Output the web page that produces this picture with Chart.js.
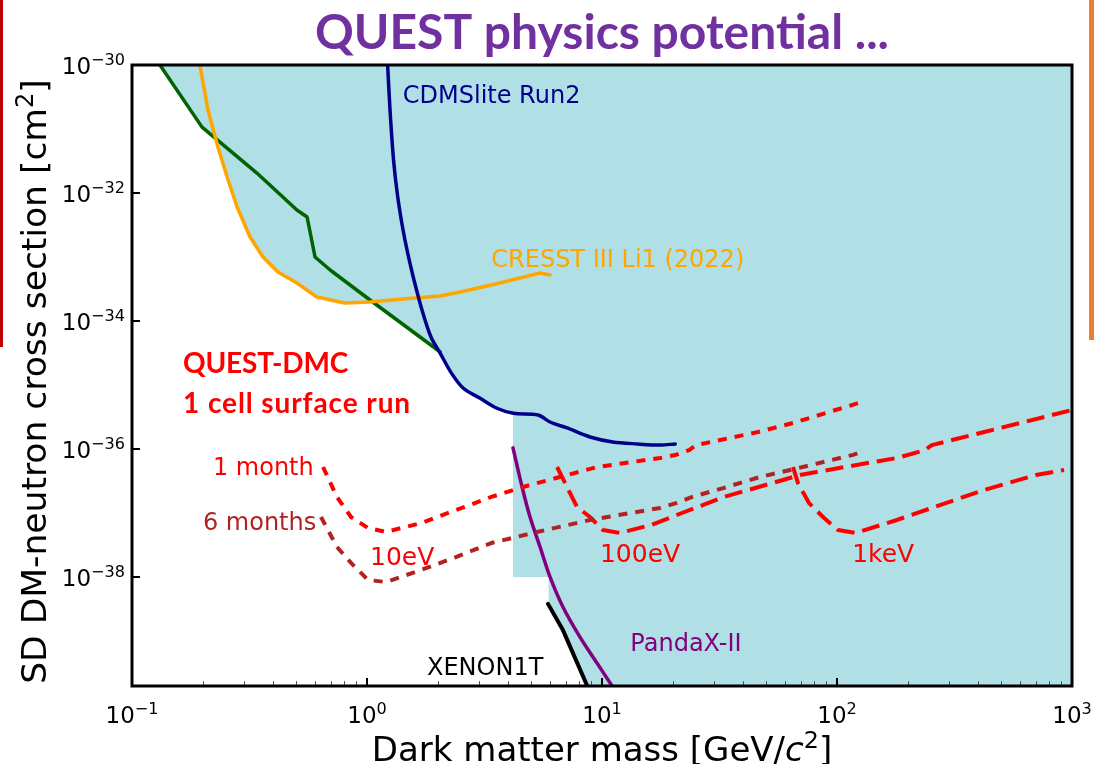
<!DOCTYPE html>
<html>
<head>
<meta charset="utf-8">
<script src="https://cdn.jsdelivr.net/npm/chart.js@4.4.1/dist/chart.umd.min.js"></script>
<style>
html,body{margin:0;padding:0;background:#fff;overflow:hidden}
#wrap{position:relative;width:1094px;height:764px}
</style>
</head>
<body>
<div id="wrap"><canvas id="c" width="1094" height="764"></canvas></div>
<script>
// ---------------- data (x: GeV/c^2, y: cm^2) ----------------
const xTicks = [0.1, 1, 10, 100, 1000];
const xTickLabels = [['10', '−1'], ['10', '0'], ['10', '1'], ['10', '2'], ['10', '3']];
const yTicks = [1e-30, 1e-32, 1e-34, 1e-36, 1e-38];
const yTickLabels = [['10', '−30'], ['10', '−32'], ['10', '−34'], ['10', '−36'], ['10', '−38']];

const greenLimit = [[0.1315,1e-30],[0.1986,1.07e-31],[0.340,2.05e-32],[0.503,5.42e-33],[0.556,4.22e-33],[0.601,1.0e-33],[0.697,6.26e-34],[1.03,2.13e-34],[2.05,3.28e-35]];
const cresstLi1 = [[0.1945,1e-30],[0.2105,1.98e-31],[0.232,5.23e-32],[0.254,1.78e-32],[0.280,6.04e-33],[0.318,2.05e-33],[0.361,1.0e-33],[0.418,5.83e-34],[0.503,3.92e-34],[0.612,2.37e-34],[0.805,1.91e-34],[1.03,1.98e-34],[1.42,2.21e-34],[2.05,2.46e-34],[2.49,2.84e-34],[3.38,3.65e-34],[4.30,4.53e-34],[5.45,5.62e-34],[6.01,5.23e-34]];
const cdmsLite = [[1.224,1e-30],[1.253,1.98e-31],[1.297,3.28e-32],[1.348,9.3e-33],[1.416,2.94e-33],[1.486,1.2e-33],[1.577,4.7e-34],[1.714,1.49e-34],[1.872,5.62e-35],[2.047,3.16e-35],[2.29,1.52e-35],[2.57,8.9e-36],[3.03,6.19e-36],[3.57,4.33e-36],[4.20,3.61e-36],[5.35,3.4e-36],[6.01,2.64e-36],[7.10,2.13e-36],[8.89,1.54e-36],[11.1,1.29e-36],[14.1,1.2e-36],[17.7,1.15e-36],[20.5,1.2e-36]];
const pandaX = [[4.18,1.04e-36],[4.57,2.55e-37],[4.94,8.66e-38],[5.45,2.95e-38],[6.01,1e-38],[6.82,3.39e-39],[8.06,1.15e-39],[9.52,4.53e-40],[11.5,1.58e-40]];
const xenon1T = [[5.89,3.8e-39],[6.82,1.48e-39],[8.89,1.58e-40]];
const excludedEdge = [[0.1315,1e-30],[0.1986,1.07e-31],[0.2275,6.98e-32],[0.232,5.23e-32],[0.254,1.78e-32],[0.280,6.04e-33],[0.318,2.05e-33],[0.361,1.0e-33],[0.418,5.83e-34],[0.503,3.92e-34],[0.612,2.37e-34],[0.805,1.91e-34],[1.06,1.98e-34],[2.05,3.28e-35],[2.29,1.52e-35],[2.57,8.9e-36],[3.03,6.19e-36],[3.57,4.33e-36],[4.18,3.62e-36],[4.18,1e-38],[5.93,1e-38],[5.93,3.8e-39],[6.82,1.48e-39],[8.89,1.58e-40],[1000,1.58e-40]];

const quest1m10eV = [[0.650,5.23e-37],[0.745,1.78e-37],[0.855,8.66e-38],[1.01,5.83e-38],[1.205,5.05e-38],[1.70,6.98e-38],[2.39,1.11e-37],[3.38,1.78e-37],[4.61,2.55e-37],[6.62,3.65e-37],[9.52,5.23e-37],[17.7,7.24e-37],[20.5,8.05e-37],[23.5,9.64e-37],[25.1,1.15e-36],[46.1,1.84e-36],[65.0,2.55e-36],[127.6,5.42e-36]];
const quest6m10eV = [[0.637,8.66e-38],[0.745,2.95e-38],[0.855,1.66e-38],[1.01,8.98e-39],[1.205,8.35e-39],[1.70,1.29e-38],[2.39,2.05e-38],[3.38,3.39e-38],[5.29,5.05e-38],[8.89,7.78e-38],[17.7,1.2e-37],[20.8,1.44e-37],[24.2,1.78e-37],[34.0,2.55e-37],[47.0,3.65e-37],[71.6,5.23e-37],[117,8.1e-37],[127.6,9.0e-37]];
const quest100eV = [[6.44,5.23e-37],[7.10,2.55e-37],[7.83,1.24e-37],[8.89,8.66e-38],[10.1,5.42e-38],[11.9,4.87e-38],[16.2,6.5e-38],[21.9,1e-37],[33.0,1.78e-37],[55.0,3.05e-37],[69.6,3.93e-37],[108,5.23e-37],[180,7.24e-37],[237,9.64e-37],[253,1.15e-36],[423,1.84e-36],[1000,4.07e-36]];
const quest1keV = [[65.0,5.23e-37],[68.2,2.95e-37],[76.0,1.43e-37],[88.1,8.35e-38],[101,5.42e-38],[120,4.87e-38],[180,7.78e-38],[253,1.2e-37],[423,2.29e-37],[703,3.93e-37],[925,4.7e-37]];

// ---------------- text annotations (anchored in data coordinates) ----------------
const FONT = '"DejaVu Sans", sans-serif';
const annotations = [
  {text:'CDMSlite Run2', x:1.42, y:2.55e-31, color:'#00008B', font:'24px '+FONT},
  {text:'CRESST III Li1 (2022)', x:3.38, y:6.98e-34, color:'#FFA500', font:'24px '+FONT},
  {text:'PandaX-II', x:13.2, y:6.98e-40, color:'#800080', font:'24px '+FONT},
  {text:'XENON1T', x:1.80, y:2.95e-40, color:'#000000', font:'24px '+FONT},
  {text:'1 month', x:0.221, y:3.93e-37, color:'#FF0000', font:'24px '+FONT},
  {text:'6 months', x:0.2004, y:5.42e-38, color:'#B22222', font:'24px '+FONT},
  {text:'10eV', x:1.03, y:1.54e-38, color:'#FF0000', font:'25px '+FONT},
  {text:'100eV', x:9.8, y:1.71e-38, color:'#FF0000', font:'25px '+FONT},
  {text:'1keV', x:116, y:1.71e-38, color:'#FF0000', font:'25px '+FONT},
  {text:'QUEST-DMC', x:0.165, y:1.54e-35, color:'#FF0000', font:'bold 28px Lato, sans-serif', spacing:'-0.2px'},
  {text:'1 cell surface run', x:0.165, y:3.65e-36, color:'#FF0000', font:'bold 28px Lato, sans-serif', spacing:'0.9px'}
];

const toXY = arr => arr.map(p => ({x:p[0], y:p[1]}));
function curve(label, arr, color, width, dash, tension) {
  return {label, data: toXY(arr), borderColor: color, backgroundColor: color, borderWidth: width,
          borderDash: dash || [], fill: false, pointRadius: 0, borderJoinStyle: 'round',
          borderCapStyle: dash ? 'butt' : 'round', tension: tension || 0, order: 0};
}

// text with a superscript: parts = [[text, style], ...] style: 'n' normal, 'i' italic, 's' superscript
function runs(ctx, parts, size) {
  const out = [];
  let w = 0;
  for (const [t, st] of parts) {
    const sz = st === 's' ? size * 0.7 : size;
    const f = (st === 'i' ? 'italic ' : '') + sz + 'px ' + FONT;
    ctx.font = f;
    const mw = ctx.measureText(t).width;
    out.push({t, f, dx: w, dy: st === 's' ? -size * 0.38 : 0, w: mw});
    w += mw;
  }
  return {out, w};
}
function drawRuns(ctx, parts, size, x, y, align) {
  const r = runs(ctx, parts, size);
  const x0 = align === 'center' ? x - r.w / 2 : (align === 'right' ? x - r.w : x);
  ctx.textAlign = 'left'; ctx.textBaseline = 'alphabetic';
  for (const o of r.out) { ctx.font = o.f; ctx.fillText(o.t, x0 + o.dx, y + o.dy); }
}

const overlay = {
  id: 'overlay',
  afterDatasetsDraw(chart) {
    const {ctx, chartArea: a, scales: {x, y}} = chart;
    ctx.save();
    ctx.beginPath();
    ctx.rect(a.left, a.top, a.right - a.left, a.bottom - a.top);
    ctx.clip();
    for (const t of annotations) {
      ctx.font = t.font; ctx.fillStyle = t.color;
      ctx.letterSpacing = t.spacing || '0px';
      ctx.textAlign = 'left'; ctx.textBaseline = 'alphabetic';
      ctx.fillText(t.text, x.getPixelForValue(t.x), y.getPixelForValue(t.y));
    }
    ctx.letterSpacing = '0px';
    ctx.restore();
    ctx.save();
    // inward ticks
    ctx.strokeStyle = '#000';
    ctx.lineWidth = 2;
    for (const v of xTicks) {
      const px = Math.round(x.getPixelForValue(v));
      ctx.beginPath(); ctx.moveTo(px, a.bottom); ctx.lineTo(px, a.bottom - 8); ctx.stroke();
    }
    for (const v of yTicks) {
      const py = Math.round(y.getPixelForValue(v));
      ctx.beginPath(); ctx.moveTo(a.left, py); ctx.lineTo(a.left + 8, py); ctx.stroke();
    }
    ctx.strokeStyle = '#555'; ctx.lineWidth = 1;
    for (let d = 0; d < xTicks.length - 1; d++) {
      for (let m = 2; m <= 9; m++) {
        const px = Math.round(x.getPixelForValue(xTicks[d] * m)) + 0.5;
        ctx.beginPath(); ctx.moveTo(px, a.bottom); ctx.lineTo(px, a.bottom - 5); ctx.stroke();
      }
    }
    // frame
    ctx.strokeStyle = '#000'; ctx.lineWidth = 3;
    ctx.strokeRect(a.left, a.top, a.right - a.left, a.bottom - a.top);

    // tick labels (base + superscript exponent), placed by the scales
    ctx.fillStyle = '#000';
    xTicks.forEach((v, i) => {
      drawRuns(ctx, [[xTickLabels[i][0], 'n'], [xTickLabels[i][1], 's']], 23,
               x.getPixelForValue(v), a.bottom + 37, 'center');
    });
    yTicks.forEach((v, i) => {
      drawRuns(ctx, [[yTickLabels[i][0], 'n'], [yTickLabels[i][1], 's']], 23,
               a.left - 7, y.getPixelForValue(v) + 9, 'right');
    });
    // axis titles
    drawRuns(ctx, [['Dark matter mass [GeV/', 'n'], ['c', 'i'], ['2', 's'], [']', 'n']], 34,
             (a.left + a.right) / 2, 761, 'center');
    ctx.save();
    ctx.translate(46, (a.top + a.bottom) / 2 + 6);
    ctx.rotate(-Math.PI / 2);
    drawRuns(ctx, [['SD DM-neutron cross section [cm', 'n'], ['2', 's'], [']', 'n']], 34.5, 0, 0, 'center');
    ctx.restore();
    ctx.restore();
  },
  afterDraw(chart) {
    const ctx = chart.ctx;
    ctx.save();
    ctx.fillStyle = '#C00000'; ctx.fillRect(0, 0, 3, 347);
    ctx.fillStyle = '#ED7D31'; ctx.fillRect(1089, 0, 5, 340);
    ctx.restore();
  }
};

Chart.defaults.font.family = FONT;
Chart.defaults.color = '#000';

new Chart(document.getElementById('c'), {
  type: 'line',
  data: {
    datasets: [
      curve('QUEST 1 month 10eV', quest1m10eV, '#FF0000', 4, [9, 8]),
      curve('QUEST 6 months 10eV', quest6m10eV, '#B22222', 4, [9, 8]),
      curve('QUEST 100eV', quest100eV, '#FF0000', 4, [18, 8]),
      curve('QUEST 1keV', quest1keV, '#FF0000', 4, [18, 8]),
      curve('CDMSlite Run2', cdmsLite, '#00008B', 3.5, null, 0.3),
      curve('CRESST III Li1 (2022)', cresstLi1, '#FFA500', 3.5),
      curve('Other limit', greenLimit, '#006400', 3.5),
      curve('PandaX-II', pandaX, '#800080', 3.5, null, 0.3),
      curve('XENON1T', xenon1T, '#000000', 4),
      {label: 'Excluded', data: toXY(excludedEdge), fill: 'end', backgroundColor: '#B0DFE5',
       borderColor: 'rgba(0,0,0,0)', borderWidth: 0, pointRadius: 0, tension: 0, order: 10}
    ]
  },
  options: {
    responsive: false, animation: false, devicePixelRatio: 1,
    layout: {padding: {left: 0, right: 22, top: 0, bottom: 0}},
    elements: {line: {tension: 0}, point: {radius: 0}},
    plugins: {
      legend: {display: false},
      tooltip: {enabled: false},
      title: {display: true, text: 'QUEST physics potential ...', fullSize: false, color: '#7030A0',
              font: {family: 'Lato, sans-serif', size: 48, weight: 'bold', lineHeight: 1.2},
              padding: {top: 4.5, bottom: 2.9}}
    },
    scales: {
      x: {
        type: 'logarithmic', min: 0.1, max: 1000,
        afterBuildTicks: s => { s.ticks = xTicks.map(v => ({value: v, major: true})); },
        afterFit: s => { s.height = 78; s.paddingLeft = 0; s.paddingRight = 0; },
        grid: {display: false, drawTicks: false},
        border: {display: false},
        ticks: {display: false, autoSkip: false},
        title: {display: false}
      },
      y: {
        type: 'logarithmic', min: 1.98e-40, max: 1e-30,
        afterBuildTicks: s => { s.ticks = yTicks.map(v => ({value: v, major: true})); },
        afterFit: s => { s.width = 132; s.paddingTop = 0; s.paddingBottom = 0; },
        grid: {display: false, drawTicks: false},
        border: {display: false},
        ticks: {display: false, autoSkip: false},
        title: {display: false}
      }
    }
  },
  plugins: [overlay]
});
</script>
</body>
</html>
